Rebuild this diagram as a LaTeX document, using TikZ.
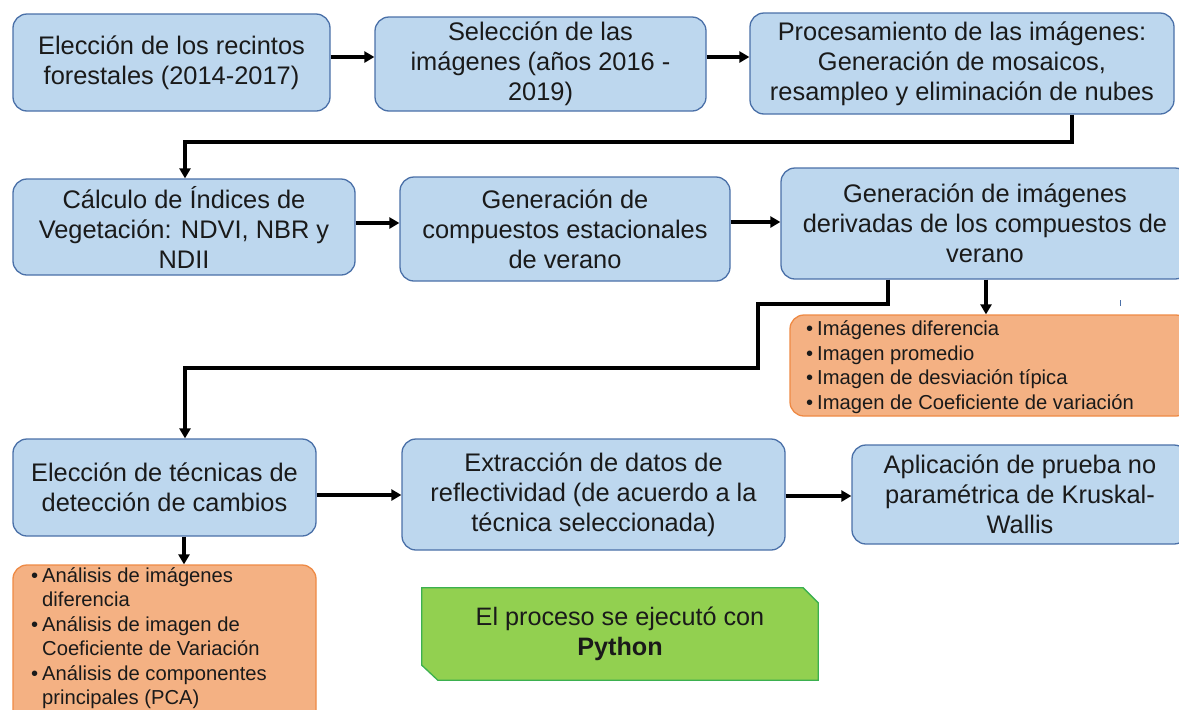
\documentclass[tikz,border=0pt]{standalone}
\usepackage{fontspec}
\setmainfont{Liberation Sans}
\usetikzlibrary{arrows.meta,backgrounds}
\definecolor{bfill}{HTML}{BDD7EE}
\definecolor{bdraw}{HTML}{4A70A8}
\definecolor{ofill}{HTML}{F4B183}
\definecolor{odraw}{HTML}{EE8A45}
\definecolor{gfill}{HTML}{92D050}
\definecolor{gdraw}{HTML}{3BB04F}
\definecolor{txt}{HTML}{1A1A1A}
\newcommand\bul{\makebox[11pt][l]{•}}
\newcommand\ind{\hspace*{11pt}}
\begin{document}
\begin{tikzpicture}[x=1pt,y=-1pt,
  bbox/.style={draw=bdraw,fill=bfill,line width=1.3pt,rounded corners=14pt,inner sep=0pt,align=center,font=\fontsize{25.4}{30}\selectfont,text=txt},
  obox/.style={draw=odraw,fill=ofill,line width=1.3pt,rounded corners=14pt,inner sep=0pt},
  otext/.style={align=left,font=\fontsize{20.2}{24.5}\selectfont,text=txt,inner sep=0pt,anchor=west},
  gtext/.style={align=center,font=\fontsize{25.2}{30}\selectfont,text=txt,inner sep=0pt},
  gshape/.style={draw=gdraw,fill=gfill,line width=1.3pt},
  arr/.style={line width=3.3pt,-{Triangle[length=10pt,width=11pt]}}]
\useasboundingbox (0,0) rectangle (1179,710);
\clip (0,0) rectangle (1179,710);

% row 1
\node[bbox,minimum width=317pt,minimum height=97pt] (b1) at (171.5,62.5) {Elección de los recintos\\forestales (2014-2017)};
\node[bbox,minimum width=331pt,minimum height=94pt] (b2) at (540.5,64) {Selección de las\\imágenes (años 2016 -\\2019)};
\node[bbox,minimum width=424pt,minimum height=101pt] (b3) at (962,63.5) {Procesamiento de las imágenes:\\Generación de mosaicos,\\resampleo y eliminación de nubes};

% row 2
\node[bbox,minimum width=342pt,minimum height=96pt] (b4) at (184,227) {Cálculo de Índices de\\Vegetación: NDVI, NBR y\\NDII};
\node[bbox,minimum width=330pt,minimum height=104pt] (b5) at (565,229) {Generación de\\compuestos estacionales\\de verano};
\node[bbox,minimum width=408pt,minimum height=111pt] (b6) at (985,223.5) {Generación de imágenes\\derivadas de los compuestos de\\verano};

% orange 1
\node[obox,minimum width=400pt,minimum height=101pt] (o1) at (990,365.5) {};
\node[otext] (t1) at (806,367) {\bul Imágenes diferencia\\\bul Imagen promedio\\\bul Imagen de desviación típica\\\bul Imagen de Coeficiente de variación};

% row 3
\node[bbox,minimum width=303pt,minimum height=97pt] (b7) at (164.5,487.5) {Elección de técnicas de\\detección de cambios};
\node[bbox,minimum width=383pt,minimum height=111pt] (b8) at (593.5,494.5) {Extracción de datos de\\reflectividad (de acuerdo a la\\técnica seleccionada)};
\node[bbox,minimum width=336pt,minimum height=99pt] (b9) at (1020,494.5) {Aplicación de prueba no\\paramétrica de Kruskal-\\Wallis};

% orange 2
\node[obox,minimum width=303pt,minimum height=165pt] (o2) at (164.5,647.5) {};
\node[otext] (t2) at (31,638) {\bul Análisis de imágenes\\\ind diferencia\\\bul Análisis de imagen de\\\ind Coeficiente de Variación\\\bul Análisis de componentes\\\ind principales (PCA)};

% green note
\node[gtext,minimum width=396pt,minimum height=92pt] (g) at (620,634) {El proceso se ejecutó con\\\textbf{Python}};
\begin{pgfonlayer}{background}
\draw[gshape] (g.north west) -- ([xshift=-15pt]g.north east) -- ([yshift=-15pt]g.north east) -- (g.south east) -- ([xshift=16pt]g.south west) -- ([yshift=15pt]g.south west) -- cycle;
\end{pgfonlayer}

% connectors
\draw[arr] ([yshift=5.5pt]b1.east) -- ([yshift=5.5pt]b1.east -| b2.west);
\draw[arr] ([yshift=7pt]b2.east) -- ([yshift=7pt]b2.east -| b3.west);
\coordinate (c1) at (1072,142);
\coordinate (c2) at (185,142);
\draw[arr] (b3.south -| c1) -- (c1) -- (c2) -- (c2 |- b4.north);
\draw[arr] ([yshift=4pt]b4.east) -- ([yshift=4pt]b4.east -| b5.west);
\draw[arr] ([yshift=7pt]b5.east) -- ([yshift=7pt]b5.east -| b6.west);
\coordinate (d1) at (888,304);
\coordinate (d2) at (758,304);
\coordinate (d3) at (758,368);
\coordinate (d4) at (185,368);
\draw[arr] (b6.south -| d1) -- (d1) -- (d2) -- (d3) -- (d4) -- (d4 |- b7.north);
\coordinate (e1) at (986,300);
\draw[arr] (b6.south -| e1) -- (o1.north -| e1);
\draw[arr] ([yshift=-7.5pt]b7.east) -- ([yshift=-7.5pt]b7.east -| b8.west);
\draw[arr] ([yshift=-1.5pt]b8.east) -- ([yshift=-1.5pt]b8.east -| b9.west);
\coordinate (f1) at (184,550);
\draw[arr] (b7.south -| f1) -- (o2.north -| f1);

% small mark
\coordinate (m1) at (1120,300);
\coordinate (m2) at (1120,306);
\draw[bdraw,line width=1pt] (m1) -- (m2);
\end{tikzpicture}
\end{document}
